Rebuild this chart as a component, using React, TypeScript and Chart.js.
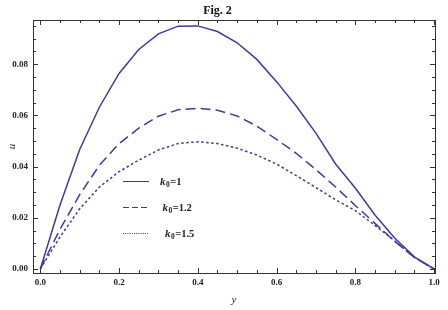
import React, { useEffect, useRef } from "react";
import { Chart, registerables } from "chart.js";

Chart.register(...registerables);

// ---- data ----
const yPositions = [0, 0.05, 0.1, 0.15, 0.2, 0.25, 0.3, 0.35, 0.4, 0.45, 0.5, 0.55, 0.6, 0.65, 0.7, 0.75, 0.8, 0.85, 0.9, 0.95, 1.0];
const uK1 = [0, 0.025, 0.0467, 0.0632, 0.0764, 0.0858, 0.0919, 0.0949, 0.095, 0.0928, 0.0884, 0.0819, 0.0732, 0.0637, 0.0531, 0.041, 0.0316, 0.0211, 0.0121, 0.0047, 0];
const uK12 = [0, 0.0155, 0.029, 0.0405, 0.049, 0.055, 0.0597, 0.0622, 0.0628, 0.062, 0.0598, 0.0558, 0.0506, 0.0452, 0.0388, 0.032, 0.0248, 0.0178, 0.0108, 0.0045, 0];
const uK15 = [0, 0.0125, 0.0235, 0.032, 0.038, 0.0425, 0.0465, 0.049, 0.0497, 0.049, 0.0472, 0.0445, 0.041, 0.0365, 0.0318, 0.027, 0.0228, 0.017, 0.011, 0.0045, 0];
const kLabels = ["1", "1.2", "1.5"];

const xTickValues = [0, 0.2, 0.4, 0.6, 0.8, 1.0];
const xMinorTicks = [0, 0.05, 0.1, 0.15, 0.2, 0.25, 0.3, 0.35, 0.4, 0.45, 0.5, 0.55, 0.6, 0.65, 0.7, 0.75, 0.8, 0.85, 0.9, 0.95, 1.0];
const yTickValues = [0, 0.02, 0.04, 0.06, 0.08];
const yMinorTicks = [0, 0.005, 0.01, 0.015, 0.02, 0.025, 0.03, 0.035, 0.04, 0.045, 0.05, 0.055, 0.06, 0.065, 0.07, 0.075, 0.08, 0.085, 0.09, 0.095];

const LINE_COLOR = "#3d3d99";
const SERIF = "'Liberation Serif', 'DejaVu Serif', serif";
const dashStyles: number[][] = [[], [10, 5], [2.5, 2.5]];
const legendDash: number[][] = [[], [6, 3], [1, 1.2]];

const isMajor = (list: number[], v: number) => list.some((t) => Math.abs(t - v) < 1e-9);

const frameTicksPlugin = {
  id: "frameTicks",
  afterDraw(chart: any) {
    const { ctx, chartArea: a, scales } = chart;
    const xs = scales.x;
    const ys = scales.y;
    ctx.save();
    ctx.strokeStyle = "#333";
    ctx.lineWidth = 1;
    ctx.setLineDash([]);
    ctx.strokeRect(Math.round(a.left) + 0.5, Math.round(a.top) + 0.5, Math.round(a.right - a.left), Math.round(a.bottom - a.top));
    ctx.beginPath();
    for (const v of xMinorTicks) {
      const px = Math.round(xs.getPixelForValue(v)) + 0.5;
      const len = isMajor(xTickValues, v) ? 5 : 3;
      ctx.moveTo(px, a.bottom);
      ctx.lineTo(px, a.bottom - len);
      ctx.moveTo(px, a.top);
      ctx.lineTo(px, a.top + len);
    }
    for (const v of yMinorTicks) {
      const py = Math.round(ys.getPixelForValue(v)) + 0.5;
      const len = isMajor(yTickValues, v) ? 5 : 3;
      ctx.moveTo(a.left, py);
      ctx.lineTo(a.left + len, py);
      ctx.moveTo(a.right, py);
      ctx.lineTo(a.right - len, py);
    }
    ctx.stroke();

    // legend
    for (let i = 0; i < kLabels.length; i++) {
      const y = Math.round(a.top + 161 + i * 26) + 0.5;
      ctx.beginPath();
      ctx.strokeStyle = "#444";
      ctx.lineWidth = 1;
      ctx.setLineDash(legendDash[i]);
      ctx.moveTo(a.left + 90, y);
      ctx.lineTo(a.left + 116, y);
      ctx.stroke();
      ctx.setLineDash([]);
      let tx = a.left + 127 + i * 2.5;
      ctx.fillStyle = "#222";
      ctx.textBaseline = "alphabetic";
      ctx.textAlign = "left";
      ctx.font = `italic bold 11px ${SERIF}`;
      ctx.fillText("k", tx, y + 3.5);
      tx += ctx.measureText("k").width + 0.5;
      ctx.font = `bold 7.5px ${SERIF}`;
      ctx.fillText("0", tx, y + 5.5);
      tx += ctx.measureText("0").width + 0.5;
      ctx.font = `bold 10.5px ${SERIF}`;
      ctx.fillText("=" + kLabels[i], tx, y + 3.5);
    }
    ctx.restore();
  },
};

export default function App() {
  const ref = useRef<HTMLCanvasElement | null>(null);
  useEffect(() => {
    if (!ref.current) return;
    const series = [uK1, uK12, uK15];
    const chart = new Chart(ref.current, {
      type: "line",
      data: {
        datasets: series.map((s, i) => ({
          label: "k0=" + kLabels[i],
          data: yPositions.map((x, j) => ({ x, y: s[j] })),
          borderColor: LINE_COLOR,
          borderWidth: 1.5,
          borderDash: dashStyles[i],
          pointRadius: 0,
          tension: 0,
          fill: false,
        })),
      },
      options: {
        responsive: false,
        animation: false,
        devicePixelRatio: 1,
        layout: { padding: { left: 0, right: 13, top: 0, bottom: 0 } },
        plugins: {
          legend: { display: false },
          tooltip: { enabled: false },
          title: {
            display: true,
            text: "Fig. 2",
            color: "#111",
            font: { family: SERIF, weight: "bold", size: 12 },
            padding: { top: 4, bottom: 1.6 },
          },
        },
        scales: {
          x: {
            type: "linear",
            min: -0.0186,
            max: 1.0025,
            grid: { display: false, drawTicks: false },
            border: { display: false },
            afterBuildTicks: (scale: any) => {
              scale.ticks = xTickValues.map((v) => ({ value: v }));
            },
            afterFit: (scale: any) => {
              scale.height = 37;
            },
            ticks: {
              autoSkip: false,
              maxRotation: 0,
              padding: 4,
              color: "#222",
              font: { family: SERIF, weight: "bold", size: 9 },
              callback: (v: any) => Number(v).toFixed(1),
            },
            title: {
              display: true,
              text: "y",
              color: "#222",
              font: { family: SERIF, style: "italic", size: 11 },
              padding: { top: 0, bottom: 3 },
            },
          },
          y: {
            type: "linear",
            min: -0.0016,
            max: 0.0973,
            grid: { display: false, drawTicks: false },
            border: { display: false },
            afterBuildTicks: (scale: any) => {
              scale.ticks = yTickValues.map((v) => ({ value: v }));
            },
            afterFit: (scale: any) => {
              scale.width = 33;
            },
            ticks: {
              autoSkip: false,
              padding: 5,
              color: "#222",
              font: { family: SERIF, weight: "bold", size: 9 },
              callback: (v: any) => Number(v).toFixed(2),
            },
            title: {
              display: true,
              text: "u",
              color: "#222",
              font: { family: SERIF, style: "italic", size: 11 },
              padding: { top: 6, bottom: 0 },
            },
          },
        },
      },
      plugins: [frameTicksPlugin],
    });
    return () => chart.destroy();
  }, []);

  return (
    <div style={{ position: "absolute", left: 0, top: 0, width: 448, height: 310, background: "#fff" }}>
      <canvas ref={ref} width={448} height={310} />
    </div>
  );
}
